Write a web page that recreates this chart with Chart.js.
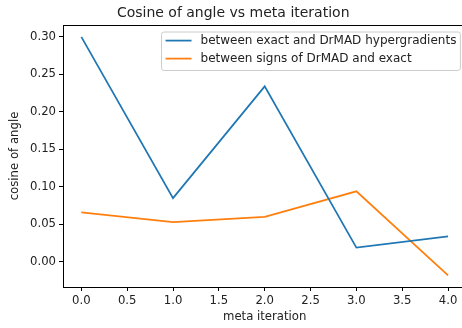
<!DOCTYPE html>
<html>
<head>
<meta charset="utf-8">
<script src="https://cdn.jsdelivr.net/npm/chart.js@4/dist/chart.umd.min.js"></script>
<style>
  html, body { margin: 0; padding: 0; background: #fff; overflow: hidden; }
  .graph-container { position: absolute; left: 0; top: 0; width: 470px; height: 328px; }
</style>
</head>
<body>
<div class="graph-container"><canvas id="chart"></canvas></div>
<script>
const iterations = [0, 1, 2, 3, 4];
const exactVsDrmad = [0.300, 0.085, 0.234, 0.019, 0.034];
const signsVsExact = [0.066, 0.053, 0.060, 0.094, -0.018];
const seriesLabels = ['between exact and DrMAD hypergradients', 'between signs of DrMAD and exact'];
const xTicks = [0, 0.5, 1, 1.5, 2, 2.5, 3, 3.5, 4];
const yTicks = [0, 0.05, 0.10, 0.15, 0.20, 0.25, 0.30];

const FONT = 'DejaVu Sans';
const textColor = '#222';

function points(ys) {
  return iterations.map((x, i) => ({ x: x, y: ys[i] }));
}

// matplotlib style legend drawn inside the axes, top right
const insideLegend = {
  id: 'insideLegend',
  afterDraw(chart) {
    const ctx = chart.ctx;
    const area = chart.chartArea;
    const fs = 12;
    ctx.save();
    ctx.font = fs + 'px "' + FONT + '"';
    const sets = chart.data.datasets;
    let maxW = 0;
    sets.forEach(d => { maxW = Math.max(maxW, ctx.measureText(d.label).width); });
    const pad = 4, handle = 26, gap = 9;
    const w = pad + handle + gap + maxW + pad;
    const h = 38.5;
    const x0 = area.right - 6 - w;
    const y0 = area.top + 7;
    ctx.beginPath();
    ctx.roundRect(x0, y0, w, h, 2.5);
    ctx.fillStyle = 'rgba(255,255,255,0.8)';
    ctx.fill();
    ctx.strokeStyle = '#cccccc';
    ctx.lineWidth = 1;
    ctx.stroke();
    sets.forEach((d, i) => {
      const cy = y0 + 8.6 + i * 18;
      ctx.beginPath();
      ctx.moveTo(x0 + pad, cy);
      ctx.lineTo(x0 + pad + handle, cy);
      ctx.strokeStyle = d.borderColor;
      ctx.lineWidth = 1.75;
      ctx.stroke();
      ctx.fillStyle = textColor;
      ctx.textBaseline = 'middle';
      ctx.fillText(d.label, x0 + pad + handle + gap, cy);
    });
    ctx.restore();
  }
};

const axisLine = { display: true, color: '#000', width: 1 };
const tickGrid = { display: true, drawOnChartArea: false, drawTicks: true, tickLength: 4, color: '#000', lineWidth: 1 };

new Chart(document.getElementById('chart'), {
  type: 'line',
  data: {
    datasets: [
      {
        label: seriesLabels[0],
        data: points(exactVsDrmad),
        borderColor: '#1f77b4',
        borderWidth: 1.75,
        pointRadius: 0,
        tension: 0
      },
      {
        label: seriesLabels[1],
        data: points(signsVsExact),
        borderColor: '#ff7f0e',
        borderWidth: 1.75,
        pointRadius: 0,
        tension: 0
      }
    ]
  },
  options: {
    responsive: true,
    maintainAspectRatio: false,
    animation: false,
    layout: { padding: { left: 0, right: 3.6, top: 0, bottom: 0 } },
    plugins: {
      legend: { display: false },
      tooltip: { enabled: false },
      title: {
        display: true,
        text: 'Cosine of angle vs meta iteration',
        color: textColor,
        font: { family: FONT, size: 14, weight: 'normal' },
        padding: { top: 5, bottom: 3.2 }
      }
    },
    scales: {
      x: {
        type: 'linear',
        position: 'bottom',
        min: -0.2,
        max: 4.2,
        afterBuildTicks: s => { s.ticks = xTicks.map(v => ({ value: v })); },
        afterFit: s => { s.height = 41; },
        ticks: {
          color: textColor,
          font: { family: FONT, size: 11.7 },
          padding: 3,
          maxRotation: 0,
          callback: v => v.toFixed(1)
        },
        grid: tickGrid,
        border: axisLine,
        title: {
          display: true,
          text: 'meta iteration',
          color: textColor,
          font: { family: FONT, size: 11.7 },
          padding: { top: 0, bottom: 4 }
        }
      },
      xTop: {
        type: 'linear',
        position: 'top',
        min: -0.2,
        max: 4.2,
        afterFit: s => { s.height = 0; },
        ticks: { display: false },
        grid: { display: false, drawTicks: false },
        border: axisLine
      },
      y: {
        type: 'linear',
        min: -0.0336,
        max: 0.3159,
        afterBuildTicks: s => { s.ticks = yTicks.map(v => ({ value: v })); },
        afterFit: s => { s.width = 63; },
        ticks: {
          color: textColor,
          font: { family: FONT, size: 11.7 },
          padding: 3,
          callback: v => v.toFixed(2)
        },
        grid: tickGrid,
        border: axisLine,
        title: {
          display: true,
          text: 'cosine of angle',
          color: textColor,
          font: { family: FONT, size: 11.7 },
          padding: { top: 8, bottom: 0 }
        }
      }
    }
  },
  plugins: [insideLegend]
});
</script>
</body>
</html>
